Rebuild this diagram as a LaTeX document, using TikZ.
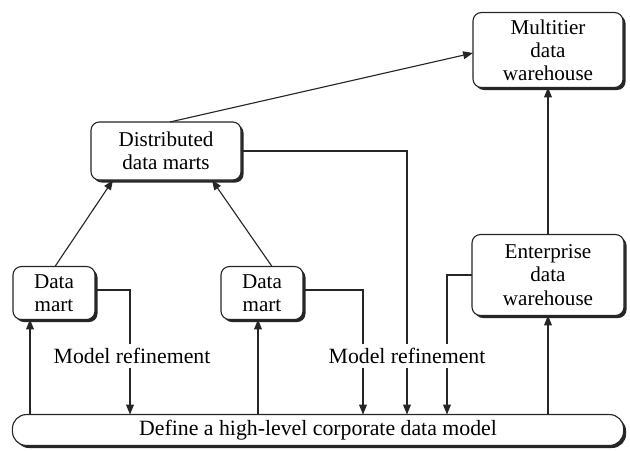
\documentclass[tikz,border=0pt]{standalone}
\usepackage{fontspec}
\setmainfont{Liberation Serif}
\usetikzlibrary{arrows.meta,shadows,calc}

\begin{document}
\begin{tikzpicture}[x=0.025cm,y=-0.025cm,
  box/.style={draw=black!85, line width=0.8pt, rounded corners=6pt, fill=white,
    align=center, inner sep=0pt, outer sep=0pt,
    font=\fontsize{15}{16.5}\selectfont,
    drop shadow={shadow xshift=1.8pt,shadow yshift=-1.8pt,fill=black,opacity=0.85}},
  link/.style={draw=black!85, line width=0.8pt},
  arr/.style={link, -{Triangle[length=7pt,width=5.5pt]}},
  lbl/.style={fill=white, inner sep=3pt, font=\fontsize{15.5}{18}\selectfont}]

\useasboundingbox (0,0) rectangle (630,450);

% tiers of the architecture
\node[box, minimum width=106.7pt, minimum height=53.3pt] (mt) at (548,50)
  {Multitier\\data\\warehouse};
\node[box, minimum width=106.7pt, minimum height=41.3pt] (dd) at (166,151)
  {Distributed\\data marts};
\node[box, minimum width=58.3pt, minimum height=37.7pt] (dm1) at (54,293)
  {Data\\mart};
\node[box, minimum width=58.3pt, minimum height=37.7pt] (dm2) at (262,293)
  {Data\\mart};
\node[box, minimum width=108.1pt, minimum height=57.6pt] (ent) at (548,275)
  {Enterprise\\data\\warehouse};
\node[box, rounded corners=10pt, minimum width=434.6pt, minimum height=22pt,
  font=\fontsize{15.5}{18}\selectfont] (bar) at (318,430)
  {Define a high-level corporate data model};

% upward flow
\draw[arr] ($(dd.north)+(4,0)$) -- ($(mt.west)+(0,3)$);
\draw[arr] ($(dm1.north)+(1,0)$) -- ($(dd.south)+(-53,0)$);
\draw[arr] ($(dm2.north)+(10,0)$) -- ($(dd.south)+(46,0)$);
\draw[arr] (ent.north) -- (mt.south);
\draw[arr] ($(bar.north)+(-288,0)$) -- ($(dm1.south)+(-24,0)$);
\draw[arr] ($(bar.north)+(-60,0)$) -- ($(dm2.south)+(-4,0)$);
\draw[arr] (ent.south |- bar.north) -- (ent.south);

% model refinement feedback
\draw[arr] ($(dm1.east)+(0,-3)$) -| ($(bar.north)+(-188,0)$);
\draw[arr] ($(dm2.east)+(0,-3)$) -| ($(bar.north)+(45,0)$);
\draw[arr] (dd.east) -| ($(bar.north)+(89,0)$);
\draw[arr] (ent.west) -| ($(bar.north)+(129,0)$);

\node[lbl] (mr1) at (132,356) {Model refinement};
\node[lbl] (mr2) at (407,356) {Model refinement};
\end{tikzpicture}
\end{document}
